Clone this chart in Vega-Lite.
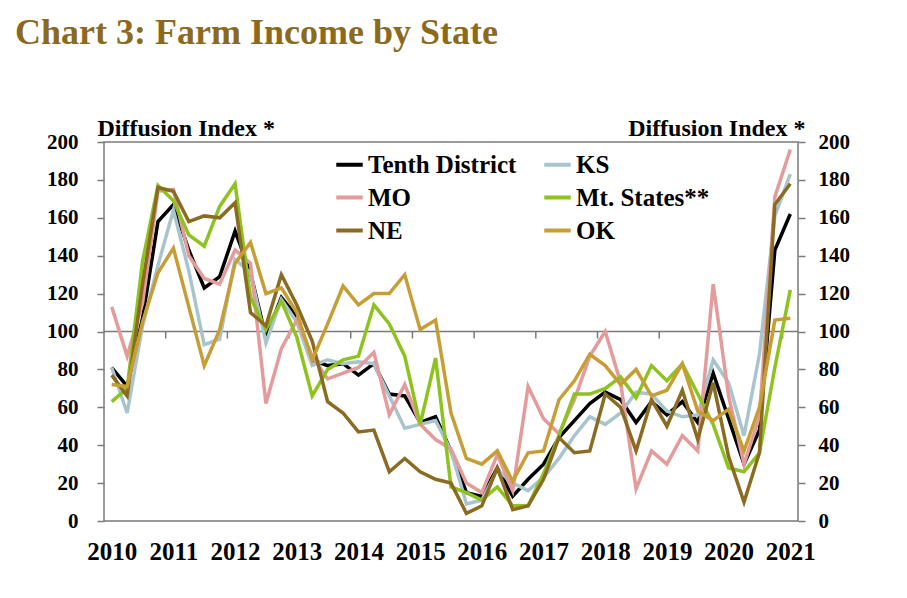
{
  "$schema": "https://vega.github.io/schema/vega-lite/v6.json",
  "width": 694,
  "height": 379,
  "autosize": "none",
  "padding": {"left": 104, "top": 142, "right": 109, "bottom": 77},
  "background": "white",
  "config": {"view": {"stroke": "#7a7a7a", "strokeWidth": 1.5}, "font": "Liberation Serif"},
  "title": {"text": "Chart 3: Farm Income by State", "anchor": "start", "frame": "group", "font": "Liberation Serif", "fontSize": 36, "fontWeight": "bold", "color": "#8B6A1E", "dx": -89, "offset": 64},
  "resolve": {"axis": {"y": "independent"}},
  "layer": [
    {
      "data": {"values": [{"v": 100}]},
      "mark": {"type": "rule", "color": "#7a7a7a", "strokeWidth": 1.5},
      "encoding": {
        "y": {"field": "v", "type": "quantitative", "scale": {"domain": [0, 200]},
          "axis": {"orient": "right", "values": [0,20,40,60,80,100,120,140,160,180,200], "grid": false, "domain": false, "tickSize": 7, "tickColor": "#7a7a7a", "tickWidth": 1.5, "labelFontSize": 21, "labelFontWeight": "bold", "labelColor": "#000", "labelPadding": 13, "title": "Diffusion Index *", "titleAngle": 0, "titleX": 7, "titleY": -7, "titleAlign": "right", "titleBaseline": "alphabetic", "titleFontSize": 24, "titleFontWeight": "bold", "titleColor": "#000"}}
      }
    },
    {
      "data": {"values": [{"b": 2010.875}, {"b": 2011.875}, {"b": 2012.875}, {"b": 2013.875}, {"b": 2014.875}, {"b": 2015.875}, {"b": 2016.875}, {"b": 2017.875}, {"b": 2018.875}, {"b": 2019.875}, {"b": 2020.875}]},
      "mark": {"type": "rule", "color": "#7a7a7a", "strokeWidth": 1.5},
      "encoding": {
        "x": {"field": "b", "type": "quantitative"},
        "y": {"datum": 100, "axis": null},
        "y2": {"datum": 96.3}
      }
    },
    {
      "data": {"values": [
        {"t": 2010, "TD": 81, "KS": 81, "MO": 113, "MT": 63, "NE": 77, "OK": 72},
        {"t": 2010.25, "TD": 71, "KS": 57, "MO": 87, "MT": 70, "NE": 66, "OK": 71},
        {"t": 2010.5, "TD": 107, "KS": 103, "MO": 115, "MT": 137, "NE": 125, "OK": 105},
        {"t": 2010.75, "TD": 158, "KS": 135, "MO": 174, "MT": 177, "NE": 176, "OK": 131},
        {"t": 2011, "TD": 167, "KS": 164, "MO": 175, "MT": 169, "NE": 174, "OK": 144},
        {"t": 2011.25, "TD": 143, "KS": 132, "MO": 140, "MT": 151, "NE": 158, "OK": 113},
        {"t": 2011.5, "TD": 123, "KS": 93, "MO": 128, "MT": 145, "NE": 161, "OK": 82},
        {"t": 2011.75, "TD": 129, "KS": 96, "MO": 125, "MT": 166, "NE": 160, "OK": 101},
        {"t": 2012, "TD": 153, "KS": 138, "MO": 143, "MT": 178, "NE": 168, "OK": 136},
        {"t": 2012.25, "TD": 131, "KS": 131, "MO": 136, "MT": 118, "NE": 110, "OK": 147},
        {"t": 2012.5, "TD": 97, "KS": 94, "MO": 62, "MT": 101, "NE": 103, "OK": 120},
        {"t": 2012.75, "TD": 118, "KS": 117, "MO": 91, "MT": 116, "NE": 130, "OK": 123},
        {"t": 2013, "TD": 108, "KS": 105, "MO": 106, "MT": 97, "NE": 114, "OK": 110},
        {"t": 2013.25, "TD": 85, "KS": 82, "MO": 87, "MT": 66, "NE": 95, "OK": 85},
        {"t": 2013.5, "TD": 82, "KS": 85, "MO": 75, "MT": 80, "NE": 63, "OK": 104},
        {"t": 2013.75, "TD": 83, "KS": 83, "MO": 78, "MT": 85, "NE": 57, "OK": 124},
        {"t": 2014, "TD": 77, "KS": 84, "MO": 81, "MT": 87, "NE": 47, "OK": 114},
        {"t": 2014.25, "TD": 83, "KS": 83, "MO": 89, "MT": 114, "NE": 48, "OK": 120},
        {"t": 2014.5, "TD": 67, "KS": 66, "MO": 56, "MT": 104, "NE": 26, "OK": 120},
        {"t": 2014.75, "TD": 66, "KS": 49, "MO": 72, "MT": 87, "NE": 33, "OK": 130},
        {"t": 2015, "TD": 52, "KS": 51, "MO": 51, "MT": 51, "NE": 26, "OK": 101},
        {"t": 2015.25, "TD": 55, "KS": 53, "MO": 43, "MT": 86, "NE": 22, "OK": 106},
        {"t": 2015.5, "TD": 37, "KS": 37, "MO": 38, "MT": 18, "NE": 20, "OK": 57},
        {"t": 2015.75, "TD": 15, "KS": 9, "MO": 20, "MT": 15, "NE": 4, "OK": 33},
        {"t": 2016, "TD": 13, "KS": 11, "MO": 15, "MT": 11, "NE": 8, "OK": 30},
        {"t": 2016.25, "TD": 28, "KS": 27, "MO": 35, "MT": 18, "NE": 28, "OK": 37},
        {"t": 2016.5, "TD": 13, "KS": 20, "MO": 16, "MT": 8, "NE": 6, "OK": 21},
        {"t": 2016.75, "TD": 22, "KS": 16, "MO": 71, "MT": 8, "NE": 8, "OK": 36},
        {"t": 2017, "TD": 30, "KS": 23, "MO": 54, "MT": 25, "NE": 22, "OK": 37},
        {"t": 2017.25, "TD": 44, "KS": 33, "MO": 46, "MT": 45, "NE": 44, "OK": 64},
        {"t": 2017.5, "TD": 53, "KS": 45, "MO": 64, "MT": 67, "NE": 36, "OK": 74},
        {"t": 2017.75, "TD": 62, "KS": 55, "MO": 87, "MT": 67, "NE": 37, "OK": 88},
        {"t": 2018, "TD": 68, "KS": 51, "MO": 100, "MT": 70, "NE": 67, "OK": 82},
        {"t": 2018.25, "TD": 64, "KS": 57, "MO": 73, "MT": 76, "NE": 60, "OK": 72},
        {"t": 2018.5, "TD": 52, "KS": 68, "MO": 17, "MT": 65, "NE": 37, "OK": 80},
        {"t": 2018.75, "TD": 63, "KS": 67, "MO": 37, "MT": 82, "NE": 64, "OK": 66},
        {"t": 2019, "TD": 56, "KS": 58, "MO": 30, "MT": 74, "NE": 50, "OK": 69},
        {"t": 2019.25, "TD": 63, "KS": 55, "MO": 45, "MT": 83, "NE": 69, "OK": 83},
        {"t": 2019.5, "TD": 52, "KS": 56, "MO": 37, "MT": 67, "NE": 43, "OK": 58},
        {"t": 2019.75, "TD": 78, "KS": 85, "MO": 125, "MT": 51, "NE": 73, "OK": 53},
        {"t": 2020, "TD": 54, "KS": 73, "MO": 66, "MT": 28, "NE": 34, "OK": 59},
        {"t": 2020.25, "TD": 30, "KS": 45, "MO": 30, "MT": 26, "NE": 10, "OK": 37},
        {"t": 2020.5, "TD": 48, "KS": 88, "MO": 55, "MT": 36, "NE": 36, "OK": 60},
        {"t": 2020.75, "TD": 143, "KS": 161, "MO": 171, "MT": 81, "NE": 167, "OK": 106},
        {"t": 2021, "TD": 162, "KS": 183, "MO": 196, "MT": 122, "NE": 178, "OK": 107}
      ]},
      "transform": [{"fold": ["TD", "KS", "MO", "MT", "NE", "OK"], "as": ["series", "value"]}],
      "mark": {"type": "line", "strokeWidth": 3.5, "strokeJoin": "miter"},
      "encoding": {
        "x": {"field": "t", "type": "quantitative", "scale": {"domain": [2009.875, 2021.125], "nice": false, "zero": false},
          "axis": {"values": [2010, 2011, 2012, 2013, 2014, 2015, 2016, 2017, 2018, 2019, 2020, 2021], "format": "d", "grid": false, "domain": false, "ticks": false, "tickSize": 0, "labelPadding": 18, "labelFontSize": 25, "labelFontWeight": "bold", "labelColor": "#000", "title": null}},
        "y": {"field": "value", "type": "quantitative", "scale": {"domain": [0, 200]},
          "axis": {"orient": "left", "values": [0,20,40,60,80,100,120,140,160,180,200], "grid": false, "domain": false, "tickSize": 7, "tickColor": "#7a7a7a", "tickWidth": 1.5, "labelFontSize": 21, "labelFontWeight": "bold", "labelColor": "#000", "labelPadding": 19, "title": "Diffusion Index *", "titleAngle": 0, "titleX": -7, "titleY": -7, "titleAlign": "left", "titleBaseline": "alphabetic", "titleFontSize": 24, "titleFontWeight": "bold", "titleColor": "#000"}},
        "color": {"field": "series", "type": "nominal",
          "scale": {"domain": ["TD", "MO", "NE", "KS", "MT", "OK"], "range": ["#000000", "#E39B9B", "#8A6B22", "#A8C5CE", "#8DC21F", "#C79E35"]},
          "legend": {"orient": "none", "legendX": 230, "legendY": 7, "columns": 2, "symbolType": "stroke", "symbolSize": 700, "symbolStrokeWidth": 4, "labelFontSize": 25, "labelFont": "Liberation Serif", "labelFontWeight": "bold", "labelColor": "#000", "columnPadding": 19, "rowPadding": 4, "labelOffset": 3, "title": null,
            "labelExpr": "datum.label == 'TD' ? 'Tenth District' : datum.label == 'MT' ? 'Mt. States**' : datum.label"}}
      }
    }
  ]
}
